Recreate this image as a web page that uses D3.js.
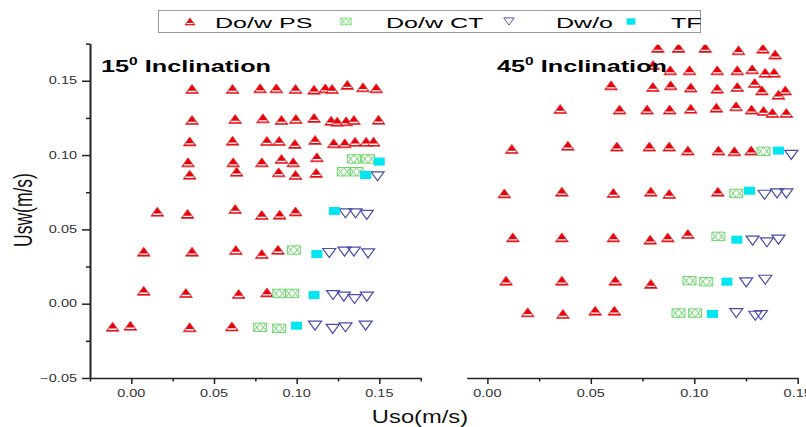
<!DOCTYPE html>
<html><head><meta charset="utf-8">
<script src="https://cdn.jsdelivr.net/npm/d3@7"></script>
<style>body{margin:0;background:#fff}svg{display:block}</style>
</head><body>
<script>
// ---------- data ----------
const seriesNames = ["Do/w PS", "Do/w CT", "Dw/o", "TF"];
const panelAngles = ["15", "45"];
const yTicks = [-0.05, 0.00, 0.05, 0.10, 0.15];
const yMinorTicks = [-0.025, 0.025, 0.075, 0.125, 0.175];
const xTicksLeft = [0.00, 0.05, 0.10, 0.15];
const xMinorLeft = [-0.025, 0.025, 0.075, 0.125, 0.175];
const xTicksRight = [0.00, 0.05, 0.10, 0.15];
const xMinorRight = [0.025, 0.075, 0.125];

// 15 deg inclination  [Uso, Usw]
const psLeft = [
  [0.0367,0.1445],[0.0612,0.1445],[0.0779,0.1449],[0.0877,0.1449],[0.0993,0.1445],[0.1105,0.1440],[0.1173,0.1449],[0.1214,0.1445],[0.1306,0.1472],[0.1401,0.1456],[0.1481,0.1449],
  [0.0367,0.1236],[0.0628,0.1243],[0.0796,0.1247],[0.0908,0.1236],[0.0995,0.1243],[0.1105,0.1250],[0.1208,0.1231],[0.1245,0.1225],[0.1299,0.1227],[0.1346,0.1236],[0.1495,0.1238],
  [0.0353,0.1092],[0.0612,0.1097],[0.0820,0.1095],[0.0894,0.1095],[0.0989,0.1075],[0.1111,0.1102],[0.1224,0.1079],[0.1291,0.1079],[0.1353,0.1090],[0.1420,0.1090],[0.1465,0.1090],
  [0.0343,0.0951],[0.0616,0.0951],[0.0789,0.0951],[0.0908,0.0974],[0.0979,0.0951],[0.1122,0.0985],
  [0.0353,0.0868],[0.0637,0.0888],[0.0891,0.0884],[0.0993,0.0866],[0.1118,0.0880],
  [0.0157,0.0619],[0.0340,0.0604],[0.0628,0.0637],[0.0789,0.0597],[0.0897,0.0599],[0.0993,0.0621],
  [0.0075,0.0350],[0.0367,0.0350],[0.0632,0.0361],[0.0789,0.0334],[0.0887,0.0363],
  [0.0075,0.0087],[0.0330,0.0072],[0.0649,0.0065],[0.0820,0.0076],
  [-0.0113,-0.0155],[-0.0006,-0.0148],[0.0353,-0.0159],[0.0608,-0.0153]
];
const ctLeft = [[0.1346,0.0974],[0.1432,0.0974],[0.1285,0.0888],[0.1362,0.0888],[0.0983,0.0361],[0.0894,0.0069],[0.0973,0.0069],[0.0779,-0.0159],[0.0894,-0.0166]];
const dwoLeft = [[0.1489,0.0857],[0.1295,0.0608],[0.1356,0.0608],[0.1424,0.0597],[0.1197,0.0341],[0.1289,0.0350],[0.1346,0.0350],[0.1432,0.0338],[0.1220,0.0058],[0.1285,0.0047],[0.1350,0.0031],[0.1424,0.0047],[0.1111,-0.0148],[0.1218,-0.0170],[0.1295,-0.0159],[0.1417,-0.0148]];
const tfLeft = [[0.1499,0.0956],[0.1417,0.0866],[0.1228,0.0624],[0.1122,0.0334],[0.1105,0.0058],[0.0999,-0.0148]];

// 45 deg inclination  [Uso, Usw]
const psRight = [
  [0.0824,0.1721],[0.0924,0.1721],[0.1053,0.1721],[0.1214,0.1705],[0.1332,0.1716],[0.1391,0.1676],
  [0.0801,0.1606],
  [0.0884,0.1570],[0.0977,0.1570],[0.1111,0.1570],[0.1208,0.1570],[0.1280,0.1577],[0.1343,0.1554],[0.1386,0.1554],
  [0.0598,0.1469],[0.0800,0.1458],[0.0886,0.1469],[0.0983,0.1454],[0.1111,0.1447],[0.1208,0.1458],[0.1292,0.1485],[0.1327,0.1435],[0.1407,0.1406],[0.1440,0.1435],
  [0.0352,0.1310],[0.0639,0.1306],[0.0772,0.1306],[0.0881,0.1306],[0.0983,0.1312],[0.1107,0.1319],[0.1202,0.1328],[0.1277,0.1306],[0.1335,0.1297],[0.1378,0.1283],[0.1445,0.1283],
  [0.0118,0.1041],[0.0389,0.1063],[0.0626,0.1057],[0.0783,0.1057],[0.0879,0.1057],[0.0969,0.1030],[0.1117,0.1030],[0.1194,0.1025],[0.1275,0.1030],
  [0.0082,0.0742],[0.0360,0.0754],[0.0609,0.0745],[0.0790,0.0754],[0.0879,0.0738],[0.1114,0.0754],
  [0.0123,0.0446],[0.0360,0.0446],[0.0609,0.0446],[0.0787,0.0431],[0.0872,0.0446],[0.0969,0.0469],
  [0.0090,0.0155],[0.0360,0.0155],[0.0618,0.0155],[0.0790,0.0133],
  [0.0195,-0.0058],[0.0365,-0.0069],[0.0521,-0.0047],[0.0614,-0.0047]
];
const ctRight = [[0.1335,0.1025],[0.1203,0.0742],[0.1117,0.0453],[0.0977,0.0155],[0.1058,0.0148],[0.0924,-0.0063],[0.1004,-0.0063]];
const dwoRight = [[0.1469,0.1001],[0.1340,0.0733],[0.1400,0.0742],[0.1445,0.0742],[0.1282,0.0424],[0.1351,0.0413],[0.1407,0.0431],[0.1251,0.0143],[0.1343,0.0161],[0.1203,-0.0063],[0.1295,-0.0081],[0.1322,-0.0076]];
const tfRight = [[0.1407,0.1030],[0.1267,0.0760],[0.1206,0.0431],[0.1158,0.0148],[0.1088,-0.0069]];

// ---------- drawing ----------
const W = 806, H = 427;
const FONT = "'Liberation Sans', Arial, Helvetica, sans-serif";
const AXC = "#222";
const svg = d3.select("body").append("svg").attr("width", W).attr("height", H);

const y = d3.scaleLinear().domain([-0.05, 0.175]).range([378, 43.6]);
const xL = d3.scaleLinear().domain([-0.025, 0.175]).range([90, 420.7]);
const xR = d3.scaleLinear().domain([-0.01, 0.15]).range([466.7, 797.7]);

function stext(g, x, yy, str, size, sx, anchor, weight, fill) {
  return g.append("text")
    .attr("transform", `translate(${x},${yy}) scale(${sx},1)`)
    .attr("font-family", FONT).attr("font-size", size)
    .attr("font-weight", weight || "normal")
    .attr("text-anchor", anchor || "start")
    .attr("fill", fill || "#000")
    .text(str);
}

// marker shapes (centered at 0,0)
const TW = 13, TH = 9;
function drawTriUp(sel) {
  sel.append("path")
    .attr("d", `M0,${-TH/2}L${TW/2},${TH/2}L${-TW/2},${TH/2}Z`)
    .attr("fill", "#e8000b").attr("stroke", "#e23a3a").attr("stroke-width", 0.8);
  sel.append("line")
    .attr("x1", -TW/2 + 2.2).attr("x2", TW/2 - 2.2)
    .attr("y1", TH/2 - 2).attr("y2", TH/2 - 2)
    .attr("stroke", "#fff").attr("stroke-width", 1.4);
}
function drawTriDown(sel) {
  sel.append("path")
    .attr("d", `M${-TW/2},${-TH/2}L${TW/2},${-TH/2}L0,${TH/2}Z`)
    .attr("fill", "none").attr("stroke", "#4b4ba8").attr("stroke-width", 1.2);
}
function drawCT(sel) {
  const w = 6.5, h = 4.2;
  sel.append("path")
    .attr("d", `M${-w},${-h}L0,${h}M0,${-h}L${-w},${h}M0,${-h}L${w},${h}M${w},${-h}L0,${h}` +
               `M${-w},${-h}L${w},${-h}M${-w},${h}L${w},${h}M${-w},${-h}L${-w},${h}M${w},${-h}L${w},${h}`)
    .attr("fill", "none").attr("stroke", "#6ad86a").attr("stroke-width", 1);
}
function drawTF(sel) {
  sel.append("rect").attr("x", -5.5).attr("y", -4).attr("width", 11).attr("height", 8)
    .attr("fill", "#00e6f0");
}

function plotSeries(g, data, xs, drawer) {
  g.selectAll(null).data(data).join("g")
    .attr("transform", d => `translate(${xs(d[0])},${y(d[1])})`)
    .each(function () { drawer(d3.select(this)); });
}

svg.append("defs").append("clipPath").attr("id", "clipTop")
  .append("rect").attr("x", 0).attr("y", 44.8).attr("width", W).attr("height", 340);

const panels = [
  { xs: xL, ps: psLeft, ct: ctLeft, dwo: dwoLeft, tf: tfLeft },
  { xs: xR, ps: psRight, ct: ctRight, dwo: dwoRight, tf: tfRight }
];
panels.forEach(p => {
  const g = svg.append("g").attr("clip-path", "url(#clipTop)");
  plotSeries(g, p.ps, p.xs, drawTriUp);
  plotSeries(g, p.ct, p.xs, drawCT);
  plotSeries(g, p.dwo, p.xs, drawTriDown);
  plotSeries(g, p.tf, p.xs, drawTF);
});

// axes
function styleAxis(g, w) {
  g.selectAll("path.domain").attr("stroke", AXC).attr("stroke-width", w);
  g.selectAll(".tick line").attr("stroke", AXC).attr("stroke-width", 1.5);
}
// y axis (left)
const ya = svg.append("g").attr("transform", "translate(90,0)")
  .call(d3.axisLeft(y).tickValues(yTicks).tickSize(8).tickSizeOuter(0).tickFormat(""));
styleAxis(ya, 2);
const yam = svg.append("g").attr("transform", "translate(90,0)")
  .call(d3.axisLeft(y).tickValues(yMinorTicks).tickSize(4).tickSizeOuter(0).tickFormat(""));
yam.select("path.domain").remove(); styleAxis(yam, 2);
yTicks.forEach(v => stext(svg, 77, y(v) + 3.6, d3.format(".2f")(v), 10, 1.45, "end", "normal", "#333"));

// x axes
[[xL, xTicksLeft, xMinorLeft], [xR, xTicksRight, xMinorRight]].forEach(([xs, maj, mnr]) => {
  const a = svg.append("g").attr("transform", "translate(0,378)")
    .call(d3.axisBottom(xs).tickValues(maj).tickSize(6).tickSizeOuter(0).tickFormat(""));
  styleAxis(a, 1.6);
  const am = svg.append("g").attr("transform", "translate(0,378)")
    .call(d3.axisBottom(xs).tickValues(mnr).tickSize(3.5).tickSizeOuter(0).tickFormat(""));
  am.select("path.domain").remove(); styleAxis(am, 1.6);
  maj.forEach(v => stext(svg, xs(v), 397, d3.format(".2f")(v), 10, 1.45, "middle", "normal", "#333"));
});

// axis titles
stext(svg, 420, 423, "Uso(m/s)", 19, 1.25, "middle", "normal", "#111");
svg.append("text")
  .attr("transform", "translate(32,210) scale(1.45,1) rotate(-90)")
  .attr("font-family", FONT).attr("font-size", 17.5).attr("text-anchor", "middle")
  .attr("fill", "#111").text("Usw(m/s)");

// panel titles
[[101, panelAngles[0]], [497, panelAngles[1]]].forEach(([px, ang]) => {
  const t = svg.append("text")
    .attr("transform", `translate(${px},72) scale(1.55,1)`)
    .attr("font-family", FONT).attr("font-size", 16.3).attr("font-weight", "bold").attr("fill", "#000");
  t.append("tspan").text(ang);
  t.append("tspan").attr("font-size", 10).attr("dy", -7).text("0");
  t.append("tspan").attr("dy", 7).text(" Inclination");
});

// legend
const lg = svg.append("g");
lg.append("rect").attr("x", 158.5).attr("y", 10.5).attr("width", 542).attr("height", 22)
  .attr("fill", "#fff").attr("stroke", "#999").attr("stroke-width", 1);
const legMarkX = [190, 346, 509, 631];
const legTextX = [215, 386, 556, 671];
const drawers = [drawTriUp, drawCT, drawTriDown, drawTF];
seriesNames.forEach((name, i) => {
  const m = lg.append("g").attr("transform", `translate(${legMarkX[i]},21.5) scale(0.8)`);
  drawers[i](m);
  stext(lg, legTextX[i], 28, name, 15, 1.67, "start", "normal", "#000");
});
</script>
</body></html>
